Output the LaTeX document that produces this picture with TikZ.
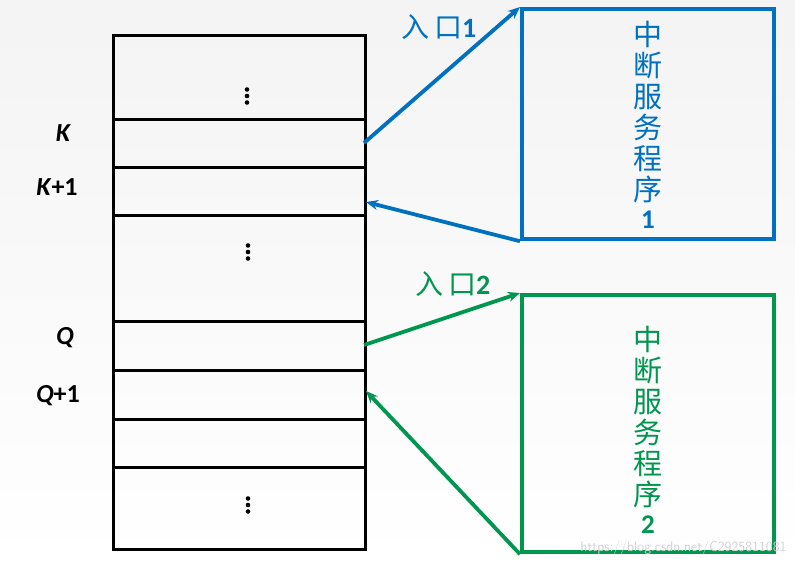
\documentclass[tikz,border=0pt]{standalone}
\usepackage{fontspec}
\setmainfont{Carlito}
\newfontfamily\cjk{Noto Sans CJK SC}
\usetikzlibrary{arrows.meta}
\definecolor{bblue}{RGB}{0,112,192}
\definecolor{bgreen}{RGB}{0,150,80}
\tikzset{
  cell/.style={draw=black,line width=2.8pt,minimum width=252pt,inner sep=0pt,anchor=north west},
  lbl/.style={font=\fontsize{26}{26}\selectfont\bfseries\itshape,anchor=center},
  prog/.style={line width=4.2pt,minimum width=252pt,inner sep=0pt,anchor=north west},
  conn/.style={line width=3.8pt,-{Stealth[length=12pt,width=10pt]}},
  entry/.style={font=\fontsize{28}{28}\selectfont},
  ptext/.style={align=center,font=\cjk\fontsize{29}{31}\selectfont}
}
\newcommand{\vdotsat}[2]{%
  \fill (#1,#2-6.5) circle (2.3pt);
  \fill (#1,#2) circle (2.3pt);
  \fill (#1,#2+6.5) circle (2.3pt);}
\begin{document}
\begin{tikzpicture}[x=1pt,y=-1pt]
\useasboundingbox (0,0) rectangle (795,566);
\shade[top color=gray!9,bottom color=white] (0,0) rectangle (795,566);
% memory table rows
\node[cell,minimum height=84pt] (r0) at (112,34) {};
\node[cell,minimum height=48pt] (rk) at (112,118) {};
\node[cell,minimum height=48pt] (rk1) at (112,166) {};
\node[cell,minimum height=106pt] (r3) at (112,214) {};
\node[cell,minimum height=49pt] (rq) at (112,320) {};
\node[cell,minimum height=49pt] (rq1) at (112,369) {};
\node[cell,minimum height=48pt] (r6) at (112,418) {};
\node[cell,minimum height=82pt] (r7) at (112,466) {};
% dots
\vdotsat{247}{96}
\vdotsat{248}{252}
\vdotsat{248}{505}
% row labels
\node[lbl] (lk) at (63,133) {K};
\node[lbl] (lk1) at (57,187) {K\textup{+1}};
\node[lbl] (lq) at (65,338) {Q};
\node[lbl] (lq1) at (58,396) {Q\textup{+1}};
% programs
\node[prog,draw=bblue,minimum height=230pt] (p1) at (520,7) {};
\node[ptext,text=bblue] (t1) at (648,125) {中\\断\\服\\务\\程\\序\\[-3pt]{\fontspec{Carlito}\bfseries\fontsize{27}{27}\selectfont 1}};
\node[prog,draw=bgreen,minimum height=257pt] (p2) at (520,293) {};
\node[ptext,text=bgreen] (t2) at (648,430) {中\\断\\服\\务\\程\\序\\[-3pt]{\fontspec{Carlito}\bfseries\fontsize{27}{27}\selectfont 2}};
% entry points
\coordinate (k) at (364,143);
\coordinate (k1) at (366,202);
\coordinate (q) at (364,345);
\coordinate (q1) at (366,391);
\draw[conn,bblue] (k) -- (p1.north west);
\draw[conn,bblue] (p1.south west) -- (k1);
\draw[conn,bgreen] (q) -- (p2.north west);
\draw[conn,bgreen] (p2.south west) -- (q1);
\node[entry,text=bblue] (e1) at (439,27) {{\cjk 入\,口}\textbf{1}};
\node[entry,text=bgreen] (e2) at (453,284) {{\cjk 入\,口}\textbf{2}};
% watermark
\node[font=\sffamily\fontsize{14}{14}\selectfont,text=gray!35,anchor=east] (wm) at (790,548) {https://blog.csdn.net/C2925811081};
\end{tikzpicture}
\end{document}
